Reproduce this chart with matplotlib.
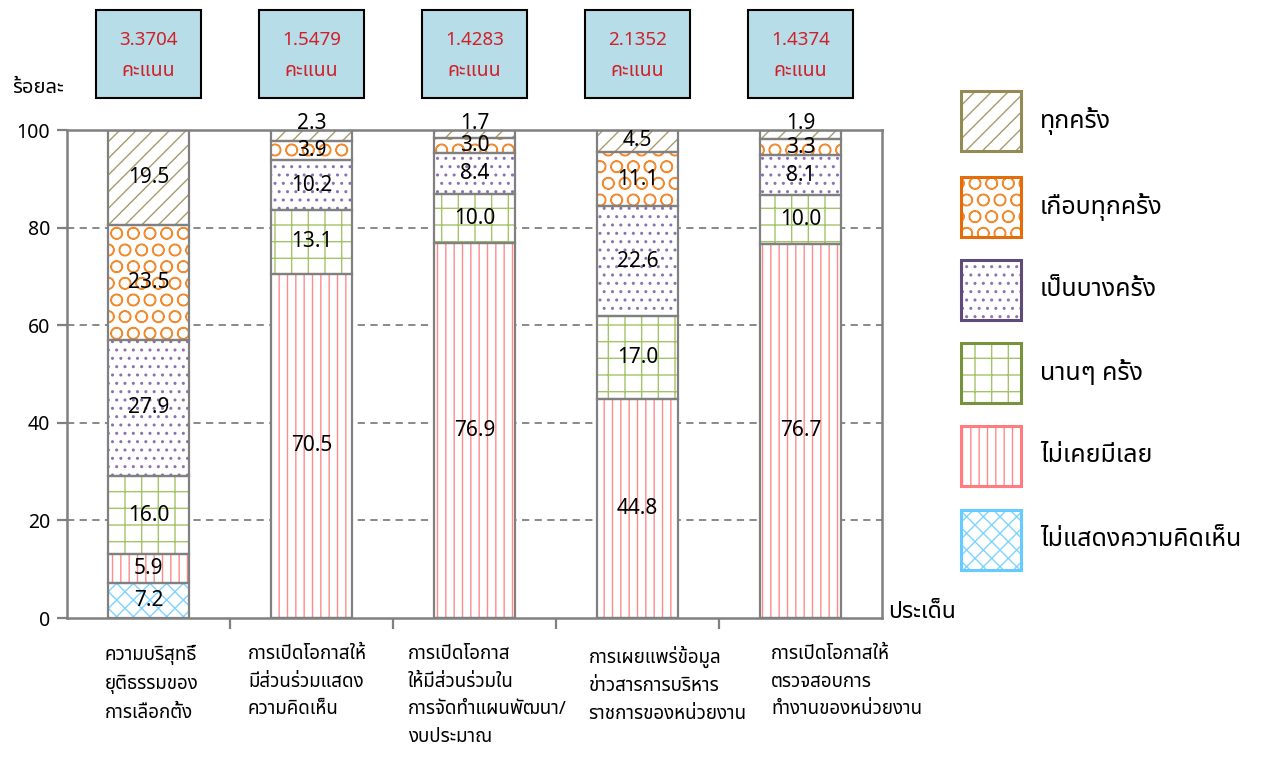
import matplotlib
matplotlib.use('Agg')
import matplotlib.pyplot as plt
import matplotlib.transforms as mtransforms
from matplotlib.patches import Rectangle
from matplotlib import font_manager
import numpy as np

# pick a thai font
names = set(f.name for f in font_manager.fontManager.ttflist)
thai = 'DejaVu Sans'
for n in ['Noto Sans Thai', 'Noto Sans Thai UI', 'Sarabun', 'IBM Plex Sans Thai', 'Anuphan', 'Athiti']:
    if n in names:
        thai = n
        break
plt.rcParams['font.family'] = [thai, 'DejaVu Sans']

categories = ['ความบริสุทธิ์\nยุติธรรมของ\nการเลือกตั้ง',
              'การเปิดโอกาสให้\nมีส่วนร่วมแสดง\nความคิดเห็น',
              'การเปิดโอกาส\nให้มีส่วนร่วมใน\nการจัดทำแผนพัฒนา/\nงบประมาณ',
              'การเผยแพร่ข้อมูล\nข่าวสารการบริหาร\nราชการของหน่วยงาน',
              'การเปิดโอกาสให้\nตรวจสอบการ\nทำงานของหน่วยงาน']
scores = ['3.3704', '1.5479', '1.4283', '2.1352', '1.4374']

series = ['ไม่แสดงความคิดเห็น', 'ไม่เคยมีเลย', 'นานๆ ครั้ง', 'เป็นบางครั้ง', 'เกือบทุกครั้ง', 'ทุกครั้ง']
no_opinion = [7.2, 0, 0, 0, 0]
never = [5.9, 70.5, 76.9, 44.8, 76.7]
rarely = [16.0, 13.1, 10.0, 17.0, 10.0]
sometimes = [27.9, 10.2, 8.4, 22.6, 8.1]
almost = [23.5, 3.9, 3.0, 11.1, 3.3]
always = [19.5, 2.3, 1.7, 4.5, 1.9]
values = [no_opinion, never, rarely, sometimes, almost, always]

edge_colors = ['#66CCFF', '#FF7C80', '#77933C', '#604A7B', '#E46C0A', '#948A54']
hatch_colors = ['#80D4FF', '#FF8A8A', '#A4C26A', '#8B72AE', '#F28B30', '#A59D6E']
hatches = ['xx', '||', '+', '..', 'O', '//']

plt.rcParams['hatch.linewidth'] = 1.0

fig = plt.figure(figsize=(12.66, 7.66), dpi=100)
ax = fig.add_axes([67 / 1266, 148 / 766, 815 / 1266, 488 / 766])

x = np.arange(len(categories))
w = 0.5
bottom = np.zeros(len(categories))
for vals, hc, h in zip(values, hatch_colors, hatches):
    vals = np.array(vals)
    ax.bar(x, vals, w, bottom=bottom, color='white', edgecolor=hc, hatch=h, linewidth=0, zorder=2)
    ax.bar(x, vals, w, bottom=bottom, fill=False, edgecolor='#808080', linewidth=1.6, zorder=3)
    for i, v in enumerate(vals):
        if v <= 0:
            continue
        yy = bottom[i] + v / 2
        if v < 2.5:
            yy = bottom[i] + v + 1.3
        ax.text(x[i], yy, '%.1f' % v, ha='center', va='center', fontsize=15, zorder=4)
    bottom += vals

ax.set_xlim(-0.5, len(categories) - 0.5)
ax.set_ylim(0, 100)
ax.set_yticks([0, 20, 40, 60, 80, 100])
ax.set_yticklabels(['0', '20', '40', '60', '80', '100'], fontsize=14)
ax.tick_params(axis='y', length=7, width=1.6, color='#808080', pad=5)
ax.set_xticks(np.arange(len(categories) - 1) + 0.5)
ax.set_xticklabels([])
ax.tick_params(axis='x', length=8, width=1.6, color='#808080', direction='out')
for yv in [20, 40, 60, 80]:
    ax.axhline(yv, color='#808080', linestyle=(0, (4, 3)), linewidth=1.3, zorder=1)
for s in ax.spines.values():
    s.set_color('#808080')
    s.set_linewidth(1.8)

# category labels under axis
offsets = [-0.27, -0.39, -0.41, -0.30, -0.18]
for i, lab in enumerate(categories):
    ax.text(x[i] + offsets[i], -5.6, lab, ha='left', va='top', fontsize=13.5,
            linespacing=1.68, clip_on=False)

ax.text(-0.68, 108.6, 'ร้อยละ', ha='center', va='center', fontsize=14.5, clip_on=False)
ax.text(4.54, 1.2, 'ประเด็น', ha='left', va='center', fontsize=16.5, clip_on=False)

# score boxes
trans = mtransforms.blended_transform_factory(ax.transData, fig.transFigure)
bw = 0.65
for i, sc in enumerate(scores):
    ax.add_patch(Rectangle((x[i] - bw / 2, 1 - 98 / 766), bw, 88 / 766, transform=trans,
                           facecolor='#B7DDE8', edgecolor='black', linewidth=1.5, clip_on=False))
    ax.text(x[i], 1 - 40 / 766, sc, transform=trans, ha='center', va='center',
            color='#D0202A', fontsize=13.5, clip_on=False)
    ax.text(x[i], 1 - 71 / 766, 'คะแนน', transform=trans, ha='center', va='center',
            color='#D0202A', fontsize=14, clip_on=False)

# legend
leg_y = [121, 207, 290, 373, 456, 540]
for name, ec, hc, h, yp in zip(series[::-1], edge_colors[::-1], hatch_colors[::-1], hatches[::-1], leg_y):
    r = (961 / 1266, 1 - (yp + 30) / 766)
    fig.patches.append(Rectangle(r, 60 / 1266, 60 / 766, transform=fig.transFigure,
                                 facecolor='white', edgecolor=hc, hatch=h, linewidth=0))
    fig.patches.append(Rectangle(r, 60 / 1266, 60 / 766, transform=fig.transFigure,
                                 fill=False, edgecolor=ec, linewidth=2.2))
    fig.text(1040 / 1266, 1 - yp / 766, name, ha='left', va='center', fontsize=18)

fig.savefig('out.png', dpi=100)
